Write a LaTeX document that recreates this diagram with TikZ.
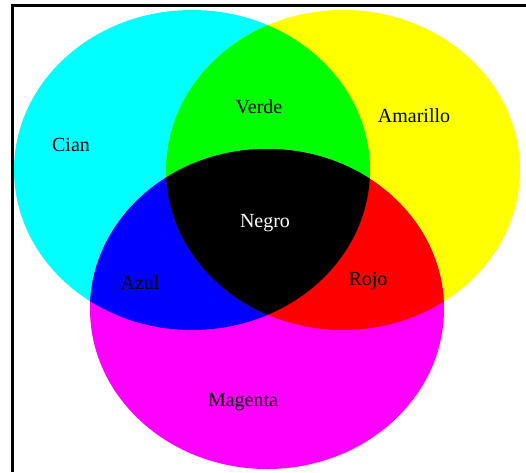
\documentclass[tikz,border=0pt]{standalone}
\usepackage{fontspec}
\setmainfont{Liberation Serif}
\definecolor{cC}{RGB}{0,255,255}
\definecolor{cY}{RGB}{255,255,0}
\definecolor{cM}{RGB}{255,0,255}
\definecolor{cG}{RGB}{0,255,0}
\definecolor{cB}{RGB}{0,0,255}
\definecolor{cR}{RGB}{255,0,0}
\definecolor{cK}{RGB}{0,0,0}
\begin{document}
\begin{tikzpicture}[x=1pt,y=-1pt,
  lbl/.style={font=\fontsize{20}{23}\selectfont, anchor=base, inner sep=0pt},
  frameline/.style={line width=3pt, draw=cK}]
\useasboundingbox (0,0) rectangle (526,472);
\def\cyanE{(192,170) ellipse [x radius=178pt, y radius=160pt]}
\def\yellE{(343,170) ellipse [x radius=177pt, y radius=160pt]}
\def\magE{(267,309) ellipse [x radius=177pt, y radius=160pt]}
% base circles
\fill[cC] \cyanE;
\fill[cY] \yellE;
\fill[cM] \magE;
% pairwise overlaps
\begin{scope}
  \clip \cyanE;
  \fill[cG] \yellE;
  \fill[cB] \magE;
\end{scope}
\begin{scope}
  \clip \yellE;
  \fill[cR] \magE;
\end{scope}
\begin{scope}
  \clip \cyanE;
  \clip \yellE;
  \fill[cK] \magE;
\end{scope}
% frame lines
\coordinate (tl) at (12.5,5.5);
\coordinate (tr) at (526,5.5);
\coordinate (bl) at (12.5,472);
\draw[frameline] (tr) -- (tl) -- (bl);
% labels
\node[lbl] (cian) at (71,151) {Cian};
\node[lbl] (verde) at (259,113) {Verde};
\node[lbl] (amarillo) at (414,122) {Amarillo};
\node[lbl, text=white] (negro) at (265,227) {Negro};
\node[lbl] (azul) at (140,289) {Azul};
\node[lbl] (rojo) at (368,285) {Rojo};
\node[lbl] (magenta) at (243,406) {Magenta};
\end{tikzpicture}
\end{document}
